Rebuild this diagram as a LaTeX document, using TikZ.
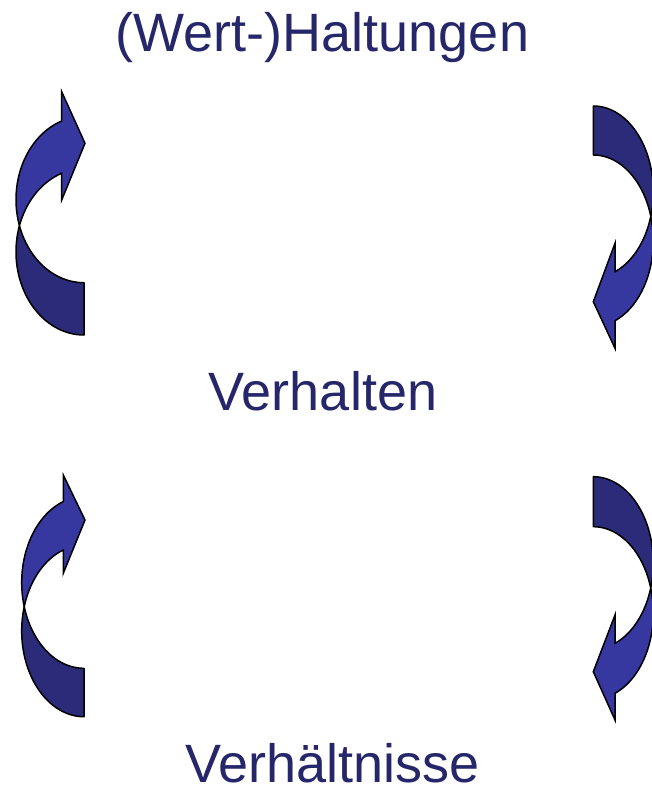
\documentclass[tikz,border=0pt]{standalone}
\usepackage{fontspec}
\setmainfont{Liberation Sans}
\definecolor{txt}{RGB}{38,38,106}
\definecolor{frontblue}{RGB}{55,55,160}
\definecolor{backblue}{RGB}{43,43,122}
\tikzset{
  backpart/.style={fill=backblue, draw=black, line width=1.5pt, line join=round},
  frontpart/.style={fill=frontblue, draw=black, line width=1.5pt, line join=miter},
  lbl/.style={text=txt, font=\fontsize{54}{60}\selectfont, inner sep=0pt, text depth=0pt, anchor=base},
}
% #1 transform, #2 w, #3 th, #4 ah, #5 inner base v, #6 near barb v, #7 tip u, #8 tip v, #9 far barb v
\newcommand{\curvarrow}[9]{%
 \begin{scope}[#1]
  \pgfmathsetmacro{\cW}{#2}
  \pgfmathsetmacro{\cT}{#3}
  \pgfmathsetmacro{\cS}{sqrt(1-(#4/#2)^2)}
  \pgfmathsetmacro{\cA}{#5/(1+\cS)}
  \pgfmathsetmacro{\cAl}{asin(\cT/(2*\cA))}
  \pgfmathsetmacro{\cB}{180-acos(#4/#2)}
  \pgfmathsetmacro{\cEa}{-180-\cAl}
  \pgfmathsetmacro{\cEb}{-180+\cAl}
  \pgfmathsetmacro{\cEc}{180+\cAl}
  \pgfmathsetmacro{\cEd}{180-\cAl}
  \path[backpart] (0,0)
    -- plot[domain=-90:\cEa, samples=60] ({\cW*cos(\x)},{\cA+\cA*sin(\x)})
    -- plot[domain=\cEb:-90, samples=60] ({\cW*cos(\x)},{\cT+\cA+\cA*sin(\x)})
    -- cycle;
  \path[frontpart]
    plot[domain=\cEc:\cB, samples=60] ({\cW*cos(\x)},{\cT+\cA+\cA*sin(\x)})
    -- (-#4,#9) -- (#7,#8) -- (-#4,#6)
    -- plot[domain=\cB:\cEd, samples=60] ({\cW*cos(\x)},{\cA+\cA*sin(\x)})
    -- cycle;
 \end{scope}}
\begin{document}
\begin{tikzpicture}[x=1pt,y=-1pt]
  \useasboundingbox (0,0) rectangle (652,794);
  \fill[white] (0,0) rectangle (652,794);
  \clip (0,0) rectangle (652,794);
  \node[lbl] (t1) at (322.5,52) {(Wert-)Haltungen};
  \node[lbl] (t2) at (323,410) {Verhalten};
  \node[lbl] (t3) at (332.5,782) {Verhältnisse};
  \curvarrow{shift={(84,335)},yscale=-1}{68}{52.3}{22.3}{161.7}{135}{1}{191.7}{243.3}
  \curvarrow{shift={(84,716.7)},yscale=-1}{62.3}{48.4}{20.7}{166.7}{143.4}{1}{196.7}{241.7}
  \curvarrow{shift={(593.3,106)},xscale=-1}{60}{49}{21.7}{165.7}{137.3}{0}{195.7}{242.3}
  \curvarrow{shift={(593.3,476.7)},xscale=-1}{60}{50}{21.7}{166.6}{138.3}{0}{195}{243.3}
\end{tikzpicture}
\end{document}
